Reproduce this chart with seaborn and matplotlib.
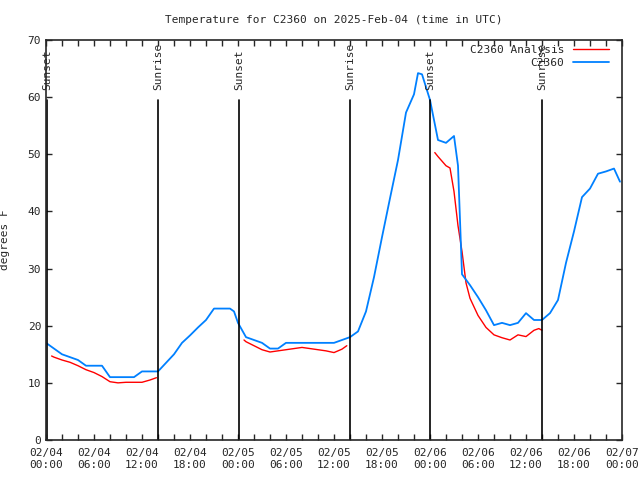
import numpy as np
import pandas as pd
import matplotlib
matplotlib.use("Agg")
import matplotlib.pyplot as plt
import matplotlib.dates as mdates
import seaborn as sns

# observed temperature (hours after 2025-02-04 00:00 UTC)
obs_hours = [0, 1, 2, 3, 4, 5, 6, 7, 7.5, 8, 9, 10, 11, 12, 13, 14, 15, 16, 17, 18,
             19, 20, 21, 22, 23, 23.5, 24, 25, 26, 27, 28, 29, 30, 31, 32, 33, 34, 35,
             36, 37, 38, 39, 40, 41, 42, 43, 44, 45, 46, 46.5, 47, 48, 49, 50, 51,
             51.5, 52, 53, 54, 55, 56, 57, 58, 59, 60, 61, 62, 63, 64, 65, 66, 67,
             68, 69, 70, 71, 71.75]
obs_temps = [17, 16, 15, 14.5, 14, 13, 13, 13, 12, 11, 11, 11, 11, 12, 12, 12, 13.5,
             15, 17, 18.3, 19.7, 21, 23, 23, 23, 22.5, 20.5, 18, 17.5, 17, 16, 16, 17,
             17, 17, 17, 17, 17, 17, 17.5, 18, 19, 22.5, 28.5, 35.5, 42.3, 49, 57.3,
             60.5, 64.2, 64, 59.5, 52.5, 52, 53.2, 48, 29, 27.1, 25, 22.7, 20.1, 20.5,
             20.1, 20.5, 22.2, 21, 21, 22.2, 24.5, 31, 36.5, 42.5, 44, 46.6, 47, 47.5,
             45.2]

# analysis temperature, three separate pieces
ana_hours = [0.7, 1, 2, 3, 4, 5, 6, 7, 8, 9, 10, 11, 12, 13, 13.8,
             24.75, 25, 26, 27, 28, 29, 30, 31, 32, 33, 34, 35, 36, 37, 37.6,
             48.6, 49, 50, 50.5, 51, 51.5, 52, 52.5, 53, 54, 55, 56, 57, 58, 59,
             60, 61, 61.6, 62]
ana_temps = [14.7, 14.5, 14.0, 13.6, 13.0, 12.3, 11.8, 11.1, 10.2, 10.0, 10.1, 10.1,
             10.1, 10.5, 10.9,
             17.5, 17.2, 16.5, 15.8, 15.4, 15.6, 15.8, 16.0, 16.2, 16.0, 15.8, 15.6,
             15.3, 15.9, 16.5,
             50.3, 49.6, 48.0, 47.6, 43.5, 37.5, 33, 27.5, 24.8, 21.8, 19.7, 18.4,
             17.9, 17.5, 18.4, 18.1, 19.2, 19.5, 19.2]
ana_piece = [0] * 15 + [1] * 15 + [2] * 19

# sun events
sun_hours = [0.1, 14.0, 24.1, 38.0, 48.0, 62.0]
sun_labels = ["Sunset", "Sunrise", "Sunset", "Sunrise", "Sunset", "Sunrise"]

start = pd.Timestamp("2025-02-04 00:00")
obs = pd.DataFrame({"time": start + pd.to_timedelta(obs_hours, unit="h"),
                    "temp": obs_temps})
ana = pd.DataFrame({"time": start + pd.to_timedelta(ana_hours, unit="h"),
                    "temp": ana_temps, "piece": ana_piece})

sns.set_style("ticks")
plt.rcParams["font.family"] = ["DejaVu Sans Mono"]
plt.rcParams["font.size"] = 8
plt.rcParams["xtick.direction"] = "in"
plt.rcParams["ytick.direction"] = "in"

fig = plt.figure(figsize=(6.4, 4.8), dpi=100)
ax = fig.add_axes([46 / 640, 40 / 480, 576 / 640, 400 / 480])

for p, grp in ana.groupby("piece"):
    sns.lineplot(data=grp, x="time", y="temp", color="#ff0000", linewidth=1.0,
                 ax=ax, label="C2360 Analysis" if p == 0 else None)
sns.lineplot(data=obs, x="time", y="temp", color="#0080ff", linewidth=1.3,
             ax=ax, label="C2360")

for h, lab in zip(sun_hours, sun_labels):
    t = start + pd.Timedelta(hours=h)
    ax.plot([t, t], [0, 59.5], color="black", linewidth=1.2)
    ax.text(t, 61.2, lab, rotation=90, ha="center", va="bottom", fontsize=8)

ax.set_xlim(start, start + pd.Timedelta(hours=72))
ax.set_ylim(0, 70)
ax.set_yticks(range(0, 71, 10))
ax.xaxis.set_major_locator(mdates.HourLocator(byhour=[0, 6, 12, 18]))
ax.xaxis.set_major_formatter(mdates.DateFormatter("%m/%d\n%H:%M"))
ax.xaxis.set_minor_locator(mdates.HourLocator(interval=2))
ax.tick_params(which="both", top=True, right=True, length=4, width=1)
ax.tick_params(axis="x", pad=6)
for s in ax.spines.values():
    s.set_linewidth(1.2)
    s.set_visible(True)

ax.set_xlabel("")
ax.set_ylabel("degrees F")
ax.yaxis.set_label_coords(-0.0625, 0.5)
ax.set_title("Temperature for C2360 on 2025-Feb-04 (time in UTC)", fontsize=8, pad=12)

handles, labels = ax.get_legend_handles_labels()
ax.legend(handles, labels, loc="upper right", bbox_to_anchor=(0.981, 0.993),
          frameon=False, markerfirst=False, handlelength=3.2, handletextpad=0.8,
          labelspacing=0.25, borderaxespad=0, borderpad=0.2, fontsize=8)

fig.savefig("out.png", dpi=100)
